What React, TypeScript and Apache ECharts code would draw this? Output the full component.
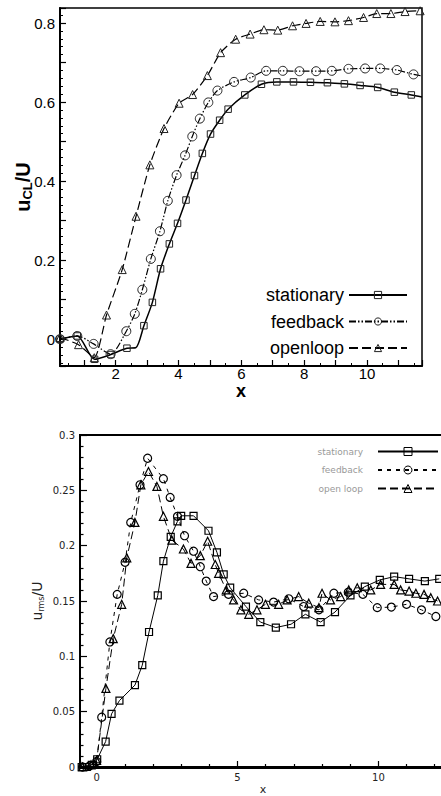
import React, { useEffect, useRef } from 'react';
import * as echarts from 'echarts';

// ---------- top chart: centre-line velocity u_CL/U ----------
const topStationary: [number, number][] = [
  [0.23, 0.0], [0.78, 0.008], [1.33, -0.051], [1.85, -0.039], [2.36, -0.023],
  [2.9, 0.034], [3.17, 0.093], [3.43, 0.178], [3.71, 0.241], [3.97, 0.293],
  [4.24, 0.352], [4.51, 0.414], [4.76, 0.47], [5.02, 0.519], [5.31, 0.554],
  [5.58, 0.582], [6.11, 0.618], [6.64, 0.645], [7.13, 0.651], [7.66, 0.651],
  [8.2, 0.65], [8.74, 0.649], [9.28, 0.646], [9.78, 0.642], [10.34, 0.637],
  [10.87, 0.625], [11.41, 0.618],
];
// line-only knee points of the stationary curve (no marker drawn there)
const topStationaryLineOnly: [number, number][] = [[2.64, -0.022], [11.75, 0.613]];

const topFeedback: [number, number][] = [
  [0.23, 0.0], [0.78, 0.008], [1.3, -0.012], [1.84, -0.038], [2.34, 0.02],
  [2.61, 0.064], [2.85, 0.125], [3.12, 0.203], [3.41, 0.273], [3.66, 0.35],
  [3.94, 0.415], [4.21, 0.465], [4.44, 0.513], [4.68, 0.558], [4.95, 0.599],
  [5.24, 0.629], [5.77, 0.651], [6.3, 0.662], [6.79, 0.679], [7.32, 0.679],
  [7.85, 0.678], [8.38, 0.678], [8.88, 0.679], [9.41, 0.684], [9.94, 0.685],
  [10.42, 0.685], [10.95, 0.681], [11.48, 0.67],
];
const topFeedbackLineOnly: [number, number][] = [[11.75, 0.666]];

const topOpenloop: [number, number][] = [
  [0.23, 0.004], [0.82, -0.014], [1.32, -0.047], [1.71, 0.061], [2.21, 0.176],
  [2.65, 0.311], [3.09, 0.441], [3.54, 0.533], [4.02, 0.597], [4.45, 0.619],
  [4.92, 0.667], [5.34, 0.725], [5.82, 0.759], [6.28, 0.772], [6.72, 0.783],
  [7.16, 0.782], [7.63, 0.793], [8.06, 0.799], [8.51, 0.804], [8.98, 0.803],
  [9.41, 0.806], [9.89, 0.814], [10.31, 0.824], [10.76, 0.824], [11.21, 0.829],
  [11.69, 0.831],
];

// ---------- bottom chart: rms velocity u_rms/U ----------
const rmsStationary: [number, number][] = [
  [-0.53, 0.0], [-0.35, 0.0], [-0.17, 0.002], [0.02, 0.007], [0.32, 0.023],
  [0.53, 0.048], [0.81, 0.06], [1.36, 0.074], [1.62, 0.092], [1.86, 0.122],
  [2.17, 0.155], [2.37, 0.186], [2.63, 0.208], [2.87, 0.222], [3.0, 0.227],
  [3.44, 0.227], [3.97, 0.2135], [4.27, 0.194], [4.51, 0.174], [4.74, 0.162],
  [5.3, 0.145], [5.81, 0.131], [6.36, 0.126], [6.9, 0.129], [7.41, 0.138],
  [7.95, 0.131], [8.46, 0.14], [9.01, 0.155], [9.52, 0.163], [10.05, 0.169],
  [10.56, 0.172], [11.09, 0.17], [11.65, 0.168], [12.16, 0.17],
];

const rmsFeedback: [number, number][] = [
  [-0.5, 0.0], [-0.25, 0.001], [0.0, 0.005], [0.18, 0.045], [0.47, 0.113],
  [0.73, 0.156], [1.01, 0.185], [1.21, 0.221], [1.54, 0.255], [1.81, 0.279],
  [2.37, 0.2605], [2.61, 0.2436], [2.87, 0.2265], [3.12, 0.209], [3.44, 0.195],
  [3.68, 0.181], [3.89, 0.168], [4.15, 0.154], [4.68, 0.156], [5.22, 0.157],
  [5.75, 0.151], [6.28, 0.149], [6.82, 0.152], [7.35, 0.145], [7.89, 0.142],
  [8.42, 0.157], [8.93, 0.158], [9.45, 0.156], [9.96, 0.144], [10.46, 0.1445],
  [11.0, 0.147], [11.53, 0.142], [12.04, 0.136],
];

const rmsOpenloop: [number, number][] = [
  [-0.5, 0.0], [-0.2, 0.002], [0.0, 0.006], [0.33, 0.071], [0.59, 0.116],
  [0.89, 0.147], [1.07, 0.189], [1.36, 0.221], [1.57, 0.255], [1.84, 0.267],
  [2.14, 0.2535], [2.37, 0.2265], [2.67, 0.205], [3.08, 0.197], [3.35, 0.184],
  [3.68, 0.191], [3.94, 0.204], [4.21, 0.183], [4.33, 0.175], [4.6, 0.16],
  [4.86, 0.151], [5.12, 0.142], [5.4, 0.138], [5.69, 0.142], [5.99, 0.147],
  [6.46, 0.147], [6.76, 0.151], [7.17, 0.154], [7.53, 0.148], [7.89, 0.144],
  [8.0, 0.157], [8.3, 0.151], [8.66, 0.154], [8.95, 0.16], [9.25, 0.162],
  [9.73, 0.16], [10.08, 0.165], [10.56, 0.165], [10.79, 0.16], [11.09, 0.159],
  [11.33, 0.157], [11.62, 0.156], [11.86, 0.153], [12.1, 0.15],
];

const topNames = ['stationary', 'feedback', 'openloop'];
const rmsNames = ['stationary', 'feedback', 'open loop'];

function withLineOnly(marked: [number, number][], lineOnly: [number, number][]) {
  const items = [
    ...marked.map((p) => ({ value: p })),
    ...lineOnly.map((p) => ({ value: p, symbol: 'none' })),
  ];
  items.sort((a, b) => a.value[0] - b.value[0]);
  return items;
}

const TOP_FONT = 'Liberation Sans, Arial, sans-serif';
const BOT_FONT = 'DejaVu Sans, sans-serif';

function topXLabel(v: number) {
  const r = Math.round(v);
  if (Math.abs(v - r) > 1e-6 || r % 2 !== 0) return '';
  return String(r);
}
function topYLabel(v: number) {
  const r = Math.round(v * 10);
  if (Math.abs(v * 10 - r) > 1e-6 || r % 2 !== 0) return '';
  return r === 0 ? '0' : (r / 10).toFixed(1);
}
function botXLabel(v: number) {
  const r = Math.round(v);
  if (Math.abs(v - r) > 1e-6 || r % 5 !== 0) return '';
  return String(r);
}
function botYLabel(v: number) {
  if (Math.abs(v) < 1e-9) return '0';
  return String(parseFloat(v.toFixed(2)));
}

export default function App() {
  const ref = useRef<HTMLDivElement>(null);
  useEffect(() => {
    if (!ref.current) return;
    const chart = echarts.init(ref.current, undefined, { renderer: 'svg' });
    const topMarker = { color: 'transparent', borderColor: '#222', borderWidth: 1 };
    const botMarker = { color: 'transparent', borderColor: '#000', borderWidth: 1.2 };
    const option: any = {
      animation: false,
      backgroundColor: '#fff',
      grid: [
        { left: 60, top: 8, width: 362, height: 358, show: true, borderColor: '#000', borderWidth: 1.5, outerBoundsMode: 'none', containLabel: false },
        { left: 80, top: 435, width: 366, height: 332, show: true, borderColor: '#000', borderWidth: 2, outerBoundsMode: 'none', containLabel: false },
      ],
      xAxis: [
        {
          type: 'value', gridIndex: 0, min: 0.23, max: 11.75, splitNumber: 11,
          axisLine: { show: true, onZero: false, lineStyle: { color: '#000', width: 2 } },
          axisTick: { show: true, inside: true, length: 6, lineStyle: { color: '#000', width: 1.2 } },
          minorTick: { show: true, splitNumber: 2, length: 3, lineStyle: { color: '#000', width: 1 } },
          splitLine: { show: false },
          axisLabel: { color: '#000', fontSize: 15, lineHeight: 12, fontFamily: TOP_FONT, margin: 1.5, formatter: topXLabel },
          name: 'x', nameLocation: 'middle', nameGap: 17.5, nameMoveOverlap: false,
          nameTextStyle: { color: '#000', fontSize: 18, lineHeight: 14, fontWeight: 'bold', fontFamily: TOP_FONT },
        },
        {
          type: 'value', gridIndex: 1, min: -0.59, max: 12.4, splitNumber: 3,
          axisLine: { show: true, onZero: false, lineStyle: { color: '#000', width: 3 } },
          axisTick: { show: true, inside: true, length: 6, lineStyle: { color: '#000', width: 1.2 } },
          minorTick: { show: true, splitNumber: 5, length: 3, lineStyle: { color: '#000', width: 1.2 } },
          splitLine: { show: false },
          axisLabel: { color: '#222', fontSize: 10, fontFamily: BOT_FONT, margin: 5, formatter: botXLabel },
          name: 'x', nameLocation: 'middle', nameGap: 17, nameMoveOverlap: false,
          nameTextStyle: { color: '#222', fontSize: 11, fontFamily: BOT_FONT },
        },
      ],
      yAxis: [
        {
          type: 'value', gridIndex: 0, min: -0.068, max: 0.838, splitNumber: 9,
          axisLine: { show: true, onZero: false, lineStyle: { color: '#000', width: 2 } },
          axisTick: { show: true, inside: true, length: 6, lineStyle: { color: '#000', width: 1.2 } },
          minorTick: { show: true, splitNumber: 5, length: 3, lineStyle: { color: '#000', width: 1 } },
          splitLine: { show: false },
          axisLabel: { color: '#000', fontSize: 15, fontFamily: TOP_FONT, margin: 5, formatter: topYLabel },
          name: '{b|u}{s|CL}{b|/U}', nameLocation: 'middle', nameGap: 26, nameMoveOverlap: false,
          nameTextStyle: {
            color: '#000', fontFamily: TOP_FONT,
            rich: {
              b: { fontSize: 20, fontWeight: 'bold', fontFamily: TOP_FONT, color: '#000', lineHeight: 22 },
              s: { fontSize: 13, fontWeight: 'bold', fontFamily: TOP_FONT, color: '#000', verticalAlign: 'bottom', lineHeight: 14, padding: [8, 0, 0, 0] },
            },
          },
        },
        {
          type: 'value', gridIndex: 1, min: 0, max: 0.3, interval: 0.05,
          axisLine: { show: true, onZero: false, lineStyle: { color: '#000', width: 2 } },
          axisTick: { show: true, inside: true, length: 7, lineStyle: { color: '#000', width: 1.2 } },
          minorTick: { show: true, splitNumber: 5, length: 3.5, lineStyle: { color: '#000', width: 1.2 } },
          splitLine: { show: false },
          axisLabel: { color: '#222', fontSize: 10, fontFamily: BOT_FONT, margin: 5, formatter: botYLabel },
          name: '{n|u}{s|rms}{n|/U}', nameLocation: 'middle', nameGap: 35, nameMoveOverlap: false,
          nameTextStyle: {
            color: '#222', fontFamily: BOT_FONT,
            rich: {
              n: { fontSize: 14, fontFamily: BOT_FONT, color: '#222', lineHeight: 16 },
              s: { fontSize: 8, fontFamily: BOT_FONT, color: '#222', verticalAlign: 'bottom', lineHeight: 9, padding: [6, 0, 0, 0] },
            },
          },
        },
      ],
      legend: [
        {
          data: topNames, orient: 'vertical', align: 'right', right: 33, top: 286, padding: 0,
          itemWidth: 58, itemHeight: 9, itemGap: 8.5, selectedMode: false,
          itemStyle: { borderWidth: 1 },
          textStyle: { color: '#000', fontSize: 18, fontFamily: TOP_FONT },
        },
        {
          data: rmsNames.map((n) => 'rms ' + n), orient: 'vertical', align: 'right', right: 2, top: 447, padding: 0,
          itemWidth: 60, itemHeight: 10, itemGap: 9.5, selectedMode: false,
          itemStyle: { borderWidth: 1 },
          formatter: (n: string) => n.replace('rms ', ''),
          textStyle: { color: '#999', fontSize: 9, fontFamily: BOT_FONT, padding: [0, 10, 0, 0] },
        },
      ],
      series: [
        {
          name: topNames[0], type: 'line', xAxisIndex: 0, yAxisIndex: 0,
          data: withLineOnly(topStationary, topStationaryLineOnly), smooth: 0.25,
          symbol: 'rect', symbolSize: 6.5, itemStyle: topMarker,
          lineStyle: { color: '#000', width: 1.5, type: 'solid' },
        },
        {
          name: topNames[1], type: 'line', xAxisIndex: 0, yAxisIndex: 0,
          data: withLineOnly(topFeedback, topFeedbackLineOnly), smooth: 0.25,
          symbol: 'circle', symbolSize: 9, itemStyle: topMarker,
          lineStyle: { color: '#000', width: 1.2, type: [7, 2, 1.5, 2, 1.5, 2] },
        },
        {
          name: topNames[2], type: 'line', xAxisIndex: 0, yAxisIndex: 0,
          data: topOpenloop, smooth: 0.2,
          symbol: 'triangle', symbolSize: 8, itemStyle: topMarker,
          lineStyle: { color: '#000', width: 1.2, type: [9, 4] },
        },
        {
          name: 'rms ' + rmsNames[0], type: 'line', xAxisIndex: 1, yAxisIndex: 1,
          data: rmsStationary, symbol: 'rect', symbolSize: 7, itemStyle: botMarker,
          lineStyle: { color: '#000', width: 1, type: 'solid' },
        },
        {
          name: 'rms ' + rmsNames[1], type: 'line', xAxisIndex: 1, yAxisIndex: 1,
          data: rmsFeedback, symbol: 'circle', symbolSize: 8, itemStyle: botMarker,
          lineStyle: { color: '#000', width: 1, type: [4, 5] },
        },
        {
          name: 'rms ' + rmsNames[2], type: 'line', xAxisIndex: 1, yAxisIndex: 1,
          data: rmsOpenloop, symbol: 'triangle', symbolSize: 8, itemStyle: botMarker,
          lineStyle: { color: '#000', width: 1, type: [8, 4] },
        },
      ],
    };
    chart.setOption(option);
    return () => chart.dispose();
  }, []);
  return (
    <div
      ref={ref}
      style={{ position: 'absolute', left: 0, top: 0, width: 441, height: 796, overflow: 'hidden', background: '#fff' }}
    />
  );
}
